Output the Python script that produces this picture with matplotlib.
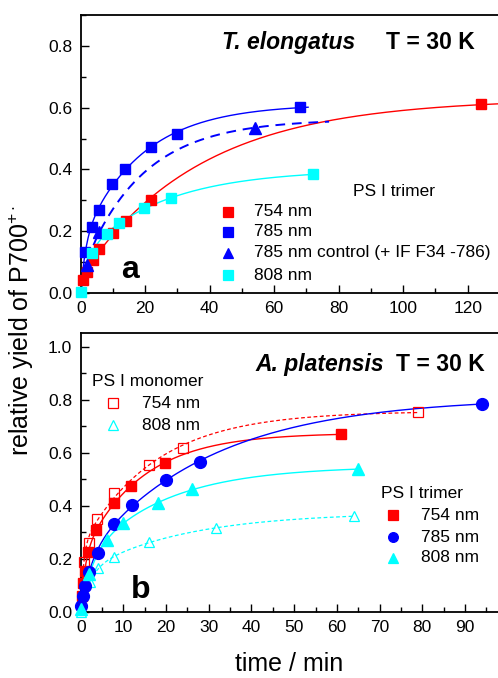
import numpy as np
import matplotlib
matplotlib.use("Agg")
import matplotlib.pyplot as plt
from matplotlib.lines import Line2D
from matplotlib.ticker import MultipleLocator

plt.rcParams['font.family'] = ['Liberation Sans', 'DejaVu Sans']
plt.rcParams['mathtext.fontset'] = 'custom'
plt.rcParams['mathtext.rm'] = 'Liberation Sans'
plt.rcParams['mathtext.it'] = 'Liberation Sans:italic'
plt.rcParams['mathtext.bf'] = 'Liberation Sans:bold'

# --- T. elongatus, PS I trimer (time in min, relative P700+ yield) ---
te_754_t = [0.6, 1.9, 3.9, 5.8, 9.9, 14.0, 21.7, 124.1]
te_754_y = [0.042, 0.069, 0.107, 0.141, 0.195, 0.234, 0.301, 0.611]
te_785_t = [1.4, 3.4, 5.6, 9.6, 13.7, 21.7, 29.8, 67.9]
te_785_y = [0.134, 0.215, 0.270, 0.352, 0.402, 0.472, 0.516, 0.601]
te_785c_t = [1.9, 5.7, 54.1]
te_785c_y = [0.090, 0.198, 0.535]
te_808_t = [0.2, 3.4, 8.1, 11.9, 19.5, 28.0, 72.0]
te_808_y = [0.003, 0.131, 0.190, 0.226, 0.275, 0.306, 0.384]

# --- A. platensis, PS I trimer ---
ap_754_t = [0.3, 0.5, 1.0, 1.8, 3.7, 7.8, 11.8, 19.8, 60.9]
ap_754_y = [0.06, 0.107, 0.155, 0.224, 0.308, 0.409, 0.476, 0.561, 0.671]
ap_785_t = [0.1, 0.5, 1.0, 2.0, 4.0, 7.9, 11.9, 19.9, 27.9, 94.1]
ap_785_y = [0.02, 0.06, 0.095, 0.148, 0.222, 0.331, 0.403, 0.498, 0.565, 0.785]
ap_808_t = [0.1, 2.0, 6.1, 10.0, 18.1, 26.0, 65.0]
ap_808_y = [0.01, 0.14, 0.27, 0.333, 0.41, 0.462, 0.538]

# --- A. platensis, PS I monomer ---
apm_754_t = [0.7, 1.9, 3.8, 7.9, 15.9, 23.9, 79.1]
apm_754_y = [0.188, 0.26, 0.348, 0.447, 0.555, 0.617, 0.755]
apm_808_t = [0.0, 2.2, 4.1, 7.9, 16.0, 31.8, 64.1]
apm_808_y = [0.0, 0.113, 0.163, 0.207, 0.262, 0.315, 0.361]

RED, BLUE, CYAN = "#ff0000", "#0000ff", "#00ffff"


def biexp_fit(t, y, taus=None):
    """Least-squares fit y = A1(1-exp(-t/tau1)) + A2(1-exp(-t/tau2)), forced through 0."""
    t = np.r_[0.0, np.asarray(t, float)]
    y = np.r_[0.0, np.asarray(y, float)]

    def design(tt, a, b):
        return np.column_stack([1 - np.exp(-tt / a), 1 - np.exp(-tt / b)])

    grid = [taus] if taus else [(a, b) for a in np.geomspace(0.3, 40, 70)
                                for b in np.geomspace(2, 400, 70) if b > a * 1.5]
    best = None
    for a, b in grid:
        M = design(t, a, b)
        amp, *_ = np.linalg.lstsq(M, y, rcond=None)
        if (amp < 0).any():
            continue
        res = ((M @ amp - y) ** 2).sum()
        if best is None or res < best[0]:
            best = (res, a, b, amp)
    _, a, b, amp = best
    return (a, b), (lambda tt: design(np.asarray(tt), a, b) @ amp)


W, H = 498, 678
fig = plt.figure(figsize=(W / 100, H / 100), dpi=100)
ax1 = fig.add_axes([80.7 / W, (H - 293) / H, 419.3 / W, 278 / H])
ax2 = fig.add_axes([80.7 / W, (H - 611.5) / H, 419.3 / W, 278.5 / H])


def fig_xy(px, py):
    return px / W, 1 - py / H


def draw_series(ax, t, y, color, marker, t_end, ms=8, filled=True, ls="-", lw=1.0,
                dashes=None, taus=None):
    used, f = biexp_fit(t, y, taus)
    tt = np.linspace(0, t_end, 400)
    line, = ax.plot(tt, f(tt), color=color, lw=lw, ls=ls, zorder=2)
    if dashes:
        line.set_dashes(dashes)
    ax.plot(t, y, ls="none", marker=marker, ms=ms, color=color,
            mfc=color if filled else "none", mec=color, mew=1.0 if filled else 0.9,
            zorder=3, clip_on=False)
    return used


# panel a
draw_series(ax1, te_754_t, te_754_y, RED, "s", 130, ms=7.5)
taus_785 = draw_series(ax1, te_785_t, te_785_y, BLUE, "s", 70.5, ms=7.5)
draw_series(ax1, te_785c_t, te_785c_y, BLUE, "^", 77, ms=8.5, ls="--", lw=1.4,
            dashes=(5, 3.5), taus=taus_785)
draw_series(ax1, te_808_t, te_808_y, CYAN, "s", 72, ms=7.5)

# panel b
draw_series(ax2, apm_754_t, apm_754_y, RED, "s", 79, ms=6.5, filled=False, lw=0.9,
            ls="--", dashes=(3, 2))
draw_series(ax2, apm_808_t, apm_808_y, CYAN, "^", 64, ms=7, filled=False, lw=0.9,
            ls="--", dashes=(3, 2))
draw_series(ax2, ap_754_t, ap_754_y, RED, "s", 61.5, ms=7.5)
draw_series(ax2, ap_785_t, ap_785_y, BLUE, "o", 94.1, ms=8.5)
draw_series(ax2, ap_808_t, ap_808_y, CYAN, "^", 65, ms=8.5)

ax1.set_xlim(0, 130)
ax1.set_ylim(0, 0.9)
ax1.xaxis.set_major_locator(MultipleLocator(20))
ax1.xaxis.set_minor_locator(MultipleLocator(10))
ax2.set_xlim(0, 98.2)
ax2.set_ylim(0, 1.053)
ax2.xaxis.set_major_locator(MultipleLocator(10))
ax2.xaxis.set_minor_locator(MultipleLocator(5))

for ax in (ax1, ax2):
    ax.yaxis.set_major_locator(MultipleLocator(0.2))
    ax.yaxis.set_minor_locator(MultipleLocator(0.1))
    ax.yaxis.set_major_formatter(plt.FormatStrFormatter("%.1f"))
    ax.tick_params(which="both", direction="in", top=False, right=False,
                   labelsize=12.5, width=1.0)
    ax.tick_params(which="major", length=6, pad=6)
    ax.tick_params(which="minor", length=3.5)
    for sp in ax.spines.values():
        sp.set_linewidth(1.3)

# headings
fig.text(*fig_xy(222, 49), "T. elongatus", fontsize=16.5, fontweight="bold",
         fontstyle="italic", va="baseline")
fig.text(*fig_xy(475, 49), "T = 30 K", fontsize=16.5, fontweight="bold",
         ha="right", va="baseline")
fig.text(*fig_xy(255, 371), "A. platensis", fontsize=16.5, fontweight="bold",
         fontstyle="italic", va="baseline")
fig.text(*fig_xy(485, 371), "T = 30 K", fontsize=16.5, fontweight="bold",
         ha="right", va="baseline")
fig.text(*fig_xy(121, 278), "a", fontsize=23, fontweight="bold", va="baseline")
fig.text(*fig_xy(131, 598), "b", fontsize=23, fontweight="bold", va="baseline")


# legends (drawn on the figure so they sit above both axes)
def legend_block(title, title_xy, mx, tx, rows, fs=12.5):
    fig.text(*fig_xy(*title_xy), title, fontsize=fs, va="center")
    for py, marker, color, filled, ms, label in rows:
        x, y = fig_xy(mx, py)
        fig.add_artist(Line2D([x], [y], transform=fig.transFigure, ls="none",
                              marker=marker, ms=ms, color=color,
                              mfc=color if filled else "none", mec=color, mew=0.9,
                              zorder=5))
        fig.text(*fig_xy(tx, py), label, fontsize=fs, va="center")


legend_block("PS I trimer", (353, 191), 228, 254, [
    (212, "s", RED, True, 6.5, "754 nm"),
    (232, "s", BLUE, True, 6.5, "785 nm"),
    (253, "^", BLUE, True, 7.5, "785 nm control (+ IF F34 -786)"),
    (275, "s", CYAN, True, 6.5, "808 nm"),
])
legend_block("PS I monomer", (92, 382), 113, 142, [
    (403, "s", RED, False, 6.5, "754 nm"),
    (425, "^", CYAN, False, 7.5, "808 nm"),
])
legend_block("PS I trimer", (381, 494), 393, 421, [
    (515, "s", RED, True, 6.5, "754 nm"),
    (537, "o", BLUE, True, 7, "785 nm"),
    (558, "^", CYAN, True, 7.5, "808 nm"),
])

fig.text(*fig_xy(21, 331), r"relative yield of P700$^{+\cdot}$", fontsize=18,
         rotation=90, ha="center", va="center")
fig.text(*fig_xy(289, 671), "time / min", fontsize=18, ha="center", va="baseline")

fig.savefig("out.png", dpi=100)
